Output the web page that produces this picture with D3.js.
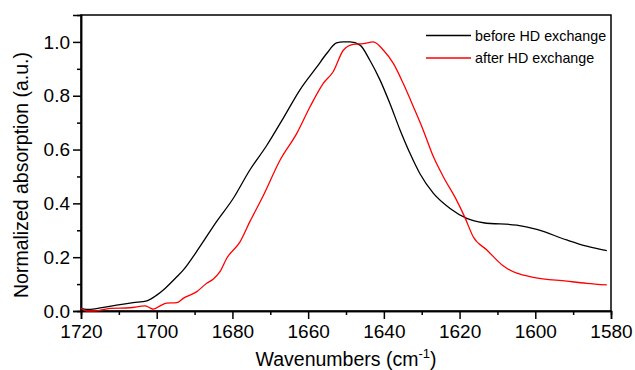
<!DOCTYPE html>
<html>
<head>
<meta charset="utf-8">
<script src="https://cdn.jsdelivr.net/npm/d3@7"></script>
<style>
  html, body { margin: 0; padding: 0; background: #fff; }
  svg { display: block; font-family: "Liberation Sans", Arial, sans-serif; }
</style>
</head>
<body>
<svg id="chart" width="635" height="370"></svg>
<script>
// ---- data ----
const seriesNames = ["before HD exchange", "after HD exchange"];
const seriesColors = ["#000000", "#ff0000"];

const beforeWn  = [1720, 1718.5, 1710.6, 1706.2, 1702.6, 1700.0, 1697.8, 1694.7, 1693.0, 1688.6,
                   1684.2, 1679.8, 1675.4, 1670.9, 1666.6, 1662.2, 1657.7, 1655.1, 1652.5, 1650.7,
                   1648.9, 1646.3, 1643.7, 1641.0, 1638.4, 1635.7, 1633.1, 1630.5, 1626.9, 1622.5,
                   1618.1, 1613.7, 1604.9, 1599.6, 1591.7, 1586.4, 1581.1];
const beforeAbs = [0.010, 0.006, 0.022, 0.031, 0.038, 0.059, 0.084, 0.127, 0.152, 0.239,
                   0.332, 0.418, 0.524, 0.616, 0.716, 0.821, 0.907, 0.957, 0.996, 1.000,
                   1.000, 0.988, 0.932, 0.858, 0.771, 0.672, 0.586, 0.511, 0.437, 0.381,
                   0.344, 0.328, 0.319, 0.303, 0.264, 0.241, 0.224];

const afterWn  = [1720, 1718.5, 1716.3, 1712.3, 1707.1, 1703.1, 1701.8, 1700.9, 1699.1, 1697.4,
                  1694.7, 1693.0, 1689.4, 1686.8, 1685.1, 1683.3, 1681.5, 1678.0, 1675.4, 1671.8,
                  1667.4, 1663.0, 1659.5, 1656.0, 1653.4, 1650.7, 1648.1, 1645.4, 1642.8, 1640.1,
                  1637.5, 1634.9, 1632.2, 1629.6, 1626.9, 1624.3, 1620.8, 1618.6, 1616.4, 1612.8,
                  1608.4, 1600.5, 1591.7, 1586.4, 1581.1];
const afterAbs = [0.010, 0.000, 0.000, 0.010, 0.012, 0.019, 0.012, 0.007, 0.019, 0.029,
                  0.031, 0.047, 0.072, 0.103, 0.118, 0.146, 0.196, 0.257, 0.332, 0.430,
                  0.561, 0.660, 0.759, 0.846, 0.889, 0.969, 0.991, 0.994, 1.000, 0.969,
                  0.920, 0.846, 0.759, 0.672, 0.573, 0.499, 0.412, 0.348, 0.276, 0.227,
                  0.167, 0.125, 0.111, 0.103, 0.097];

const xTicks = [1720, 1700, 1680, 1660, 1640, 1620, 1600, 1580];
const xMinorTicks = [1710, 1690, 1670, 1650, 1630, 1610, 1590];
const yTicks = [0.0, 0.2, 0.4, 0.6, 0.8, 1.0];
const yMinorTicks = [0.1, 0.3, 0.5, 0.7, 0.9];

// ---- layout ----
const W = 635, H = 370;
const margin = {left: 81, right: 24, top: 15, bottom: 59};
const svg = d3.select("#chart");

const x = d3.scaleLinear().domain([1720, 1580]).range([margin.left, W - margin.right]);
const y = d3.scaleLinear().domain([0, 1.1]).range([H - margin.bottom, margin.top]);

// frame (top & right)
svg.append("rect")
  .attr("x", margin.left).attr("y", margin.top)
  .attr("width", W - margin.left - margin.right)
  .attr("height", H - margin.top - margin.bottom)
  .attr("fill", "none").attr("stroke", "#000").attr("stroke-width", 1.5);

// axes
const xAxis = svg.append("g").attr("transform", `translate(0,${H - margin.bottom})`)
  .call(d3.axisBottom(x).tickValues(xTicks).tickFormat(d3.format("d")).tickSize(8).tickPadding(6));
const xMinor = svg.append("g").attr("transform", `translate(0,${H - margin.bottom})`)
  .call(d3.axisBottom(x).tickValues(xMinorTicks).tickFormat("").tickSize(4));
const yAxis = svg.append("g").attr("transform", `translate(${margin.left},0)`)
  .call(d3.axisLeft(y).tickValues(yTicks).tickFormat(d3.format(".1f")).tickSize(8).tickPadding(3));
const yMinor = svg.append("g").attr("transform", `translate(${margin.left},0)`)
  .call(d3.axisLeft(y).tickValues(yMinorTicks).tickFormat("").tickSize(4));

[xAxis, xMinor, yAxis, yMinor].forEach(g => {
  g.select(".domain").attr("stroke", "#000").attr("stroke-width", 1.5);
  g.selectAll(".tick line").attr("stroke", "#000").attr("stroke-width", 1.5);
  g.selectAll("text").attr("fill", "#000").style("font-size", "19px")
    .style("font-family", "'Liberation Sans', Arial, sans-serif");
});

// lines
const line = d3.line().x(d => x(d[0])).y(d => y(d[1])).curve(d3.curveMonotoneX);
const series = [
  d3.zip(beforeWn, beforeAbs),
  d3.zip(afterWn, afterAbs)
];
series.forEach((s, i) => {
  svg.append("path").datum(s)
    .attr("d", line).attr("fill", "none")
    .attr("stroke", seriesColors[i]).attr("stroke-width", 1.3)
    .attr("stroke-linejoin", "round");
});

// legend
const legend = svg.append("g");
seriesNames.forEach((name, i) => {
  const ly = 35.5 + i * 22.5;
  legend.append("line").attr("x1", 426).attr("x2", 471).attr("y1", ly).attr("y2", ly)
    .attr("stroke", seriesColors[i]).attr("stroke-width", 1.3);
  legend.append("text").attr("x", 475).attr("y", ly + 5)
    .style("font-size", "14.3px").attr("fill", "#000").text(name);
});

// axis titles
const xt = svg.append("text")
  .attr("x", (margin.left + W - margin.right) / 2).attr("y", 366)
  .attr("text-anchor", "middle").style("font-size", "19.5px").attr("fill", "#000");
xt.append("tspan").text("Wavenumbers (cm");
xt.append("tspan").attr("dy", -8).style("font-size", "13px").text("-1");
xt.append("tspan").attr("dy", 8).text(")");

svg.append("text")
  .attr("transform", `translate(28,${(margin.top + H - margin.bottom) / 2 + 12}) rotate(-90)`)
  .attr("text-anchor", "middle").style("font-size", "19.5px").attr("fill", "#000")
  .text("Normalized absorption (a.u.)");
</script>
</body>
</html>
